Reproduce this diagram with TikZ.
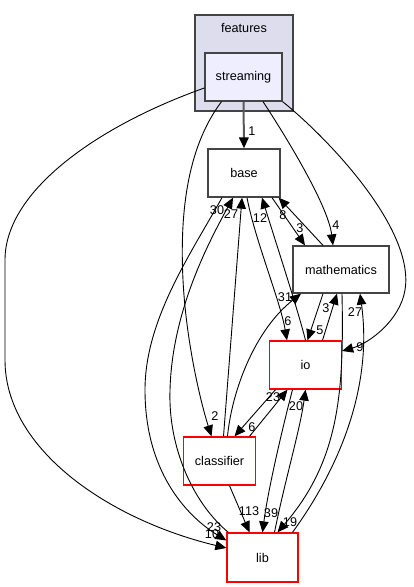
\documentclass[tikz,border=0pt]{standalone}
\usepackage{fontspec}
\setmainfont{Liberation Sans}
\usetikzlibrary{arrows.meta}
\definecolor{clusterfill}{HTML}{DDDDEE}
\definecolor{dirfill}{HTML}{EEEEFF}
\definecolor{dirline}{HTML}{444444}
\tikzset{
  dir/.style = {rectangle, draw=#1, line width=1.3bp, fill=white,
                minimum width=72bp, minimum height=48bp, inner sep=0pt},
  dir/.default = dirline,
  dep/.style = {line width=0.9bp, -{Triangle[length=11bp,width=9.5bp,color=black]}},
  num/.style = {inner sep=0pt}
}

\begin{document}
\begin{tikzpicture}[x=1bp, y=-1bp, font=\fontsize{12.7}{15}\selectfont]
	\useasboundingbox (0,0) rectangle (413,587);
	
	% Cluster
	\filldraw[fill=clusterfill, draw=dirline, line width=1.3bp] (195,15) rectangle (293,111);
	\node[num] (features) at (244,28) {features};
	
	% Directories
	\node[dir, fill=dirfill, minimum width=77bp] (streaming) at (243.5,77) {streaming};
	\node[dir] (base) at (244,173) {base};
	\node[dir, minimum width=96bp, minimum height=47bp] (mathematics) at (341,269.5) {mathematics};
	\node[dir=red] (io) at (305.5,365) {io};
	\node[dir=red] (classifier) at (219.5,461) {classifier};
	\node[dir=red, minimum width=71bp, minimum height=49bp] (lib) at (262.5,557.5) {lib};
	
	% From streaming
	\draw[dep, line width=2bp, draw=black!65] (streaming.south) -- (base.north) node[num] (n-sb) at (252,131) {1};
	\draw[dep] ([xshift=19.5bp]streaming.south) .. controls (285,135) and (328,205) .. ([xshift=-8bp]mathematics.north) node[num] (n-sm) at (336,225) {4};
	\draw[dep] (streaming.south east) .. controls (330,140) and (415,230) .. (405,290) .. controls (400,320) and (370,343) .. ([yshift=14bp]io.east) node[num] (n-si) at (360,347) {9};
	\draw[dep] ([xshift=-22bp]streaming.south) .. controls (185,150) and (180,220) .. (183,280) .. controls (186,340) and (200,400) .. ([xshift=-8bp]classifier.north) node[num] (n-sc) at (215,416) {2};
	\draw[dep] ([yshift=-11bp]streaming.west) .. controls (100,125) and (5,190) .. (5,260) -- (5,360) .. controls (5,450) and (110,520) .. ([yshift=9.5bp]lib.west) node[num] (n-sl) at (212,534) {10};
	
	% base <-> mathematics, io, lib
	\draw[dep] ([xshift=28bp]base.south) -- ([xshift=-36bp]mathematics.north) node[num] (n-bm) at (300,228) {3};
	\draw[dep] ([xshift=-18bp]mathematics.north) -- ([xshift=-2bp]base.south east) node[num] (n-mb) at (283,215) {8};
	\draw[dep] ([xshift=3bp]base.south) .. controls (255,240) and (280,300) .. ([xshift=-18.5bp]io.north) node[num] (n-bi) at (288,321) {6};
	\draw[dep] (io.north) .. controls (298,310) and (275,240) .. ([xshift=18bp]base.south) node[num] (n-ib) at (260,218) {12};
	\draw[dep] ([xshift=-22bp]base.south) .. controls (190,255) and (145,320) .. (145,390) .. controls (145,470) and (185,515) .. ([yshift=17bp]lib.west) node[num] (n-bl) at (214,527) {23};
	\draw[dep] ([xshift=2bp]lib.north west) .. controls (195,505) and (168,450) .. (170,390) .. controls (172,310) and (210,240) .. ([xshift=-11bp]base.south) node[num] (n-lb) at (217,210) {30};
	
	% classifier
	\draw[dep] ([xshift=4bp]classifier.north) -- ([xshift=-2bp]base.south) node[num] (n-cb) at (231,214) {27};
	\draw[dep] ([xshift=8bp]classifier.north) .. controls (232,390) and (255,330) .. ([xshift=-40bp]mathematics.south) node[num] (n-cm) at (285,297) {31};
	\draw[dep] ([xshift=30bp]classifier.north) -- ([xshift=-18bp]io.south) node[num] (n-ci) at (273,397) {23};
	\draw[dep] ([xshift=-30bp]io.south) -- ([xshift=15bp]classifier.north) node[num] (n-ic) at (252,427) {6};
	\draw[dep] ([xshift=10bp]classifier.south) -- ([xshift=-13bp]lib.north) node[num] (n-cl) at (249,511) {113};
	
	% mathematics <-> io, lib
	\draw[dep] ([xshift=-18bp]mathematics.south) -- ([xshift=2bp]io.north) node[num] (n-mi) at (320,330) {5};
	\draw[dep] ([xshift=17bp]io.north) -- ([xshift=-4bp]mathematics.south) node[num] (n-im) at (326,308) {3};
	\draw[dep] ([xshift=30bp]lib.north) .. controls (345,460) and (372,380) .. ([xshift=19bp]mathematics.south) node[num] (n-lm) at (355,312) {27};
	\draw[dep] ([xshift=1bp]mathematics.south) .. controls (344,390) and (340,460) .. ([xshift=15bp]lib.north) node[num] (n-ml) at (290,522) {19};
	
	% io <-> lib
	\draw[dep] ([xshift=12bp]lib.north) .. controls (285,480) and (300,430) .. (io.south) node[num] (n-li) at (296,406) {20};
	\draw[dep] ([xshift=-13bp]io.south) .. controls (282,430) and (268,490) .. (lib.north) node[num] (n-il) at (271,513) {39};
	
\end{tikzpicture}
\end{document}
